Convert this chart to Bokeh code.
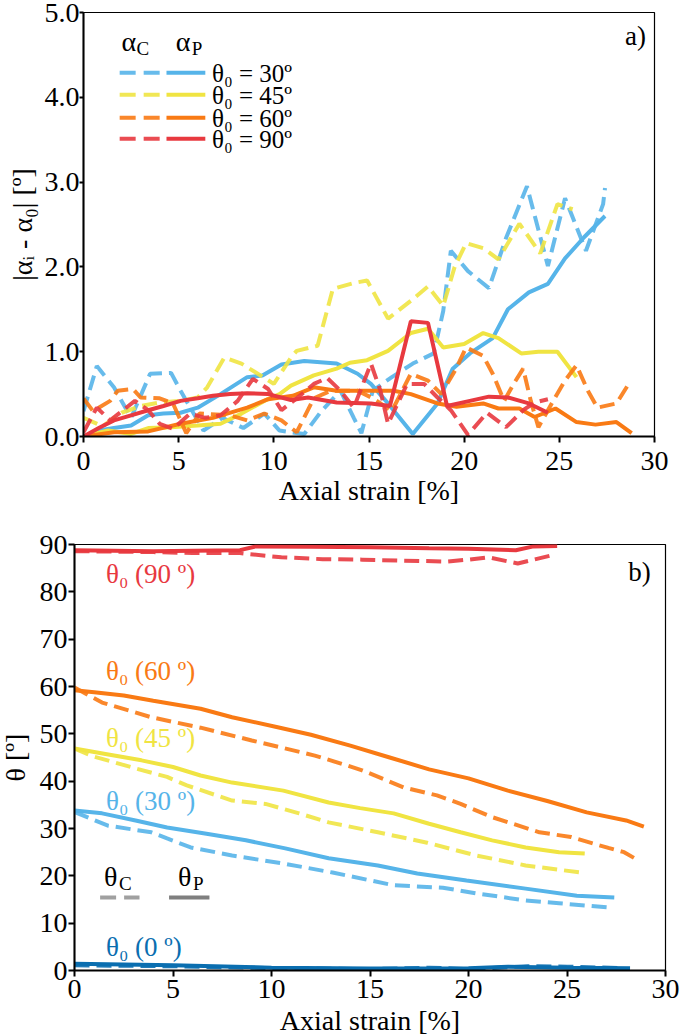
from bokeh.plotting import figure
from bokeh.layouts import column
from bokeh.models import Range1d, FixedTicker, PrintfTickFormatter, Label
from bokeh.embed import file_html
from bokeh.resources import INLINE

FONT = "Liberation Serif"
BLUE = "#56B4E9"
YELLOW = "#F0E442"
ORANGE = "#F97A14"
RED = "#E8393F"
DBLUE = "#0A6EB0"

# ---------------- panel a : |alpha_i - alpha_0| vs axial strain ----------------
a30_p_x = [0, 0.8, 1.6, 2.5, 3.4, 4.2, 5.1, 6.0, 7.2, 8.6, 9.4, 10.4, 11.6, 13.3, 14.4, 15.1, 16.0, 17.3, 18.6, 19.4, 20.3, 21.5, 22.3, 23.4, 24.4, 25.3, 26.3, 27.4]
a30_p_y = [0, 0.07, 0.1, 0.13, 0.25, 0.27, 0.28, 0.34, 0.5, 0.7, 0.72, 0.85, 0.89, 0.86, 0.74, 0.62, 0.39, 0.03, 0.39, 0.8, 0.98, 1.16, 1.5, 1.7, 1.8, 2.1, 2.35, 2.6]
a30_c_x = [0, 0.7, 1.6, 2.5, 3.5, 4.6, 5.1, 6.3, 7.3, 8.4, 9.5, 10.3, 10.9, 11.6, 12.5, 13.5, 14.2, 14.6, 15.2, 16.2, 17.3, 18.4, 18.9, 19.3, 20.2, 21.3, 22.2, 23.3, 24.4, 25.3, 26.4, 27.3, 27.4]
a30_c_y = [0.3, 0.83, 0.58, 0.22, 0.74, 0.75, 0.54, 0.07, 0.22, 0.1, 0.27, 0.07, 0.05, 0.03, 0.3, 0.54, 0.22, 0.04, 0.54, 0.7, 0.86, 0.98, 1.48, 2.19, 1.95, 1.75, 2.34, 2.95, 2.01, 2.81, 2.19, 2.74, 2.93]

a45_p_x = [0, 1.3, 2.5, 3.4, 4.6, 6.0, 7.2, 8.3, 9.5, 10.3, 10.9, 12.1, 13.3, 14.0, 14.9, 16.0, 17.2, 18.1, 18.9, 20.0, 21.0, 21.8, 23.0, 23.9, 24.9, 25.9]
a45_p_y = [0, 0.07, 0.03, 0.1, 0.11, 0.13, 0.15, 0.27, 0.42, 0.5, 0.6, 0.72, 0.8, 0.87, 0.9, 1.01, 1.22, 1.27, 1.05, 1.09, 1.22, 1.16, 0.98, 1.0, 1.0, 0.7]
a45_c_x = [0, 1.0, 2.0, 3.0, 4.0, 5.1, 6.0, 6.5, 7.4, 8.3, 9.3, 10.0, 10.9, 11.2, 12.3, 13.1, 14.2, 14.9, 16.0, 17.2, 18.1, 18.9, 19.5, 20.1, 21.0, 21.8, 22.9, 24.0, 24.9, 25.7]
a45_c_y = [0.22, 0.12, 0.28, 0.36, 0.4, 0.42, 0.46, 0.58, 0.93, 0.86, 0.72, 0.62, 0.93, 1.01, 1.07, 1.74, 1.81, 1.84, 1.39, 1.6, 1.77, 1.54, 2.0, 2.28, 2.22, 2.09, 2.51, 2.16, 2.74, 2.68]

a60_p_x = [0, 1.6, 3.4, 5.1, 6.8, 8.6, 9.7, 11.0, 12.1, 13.3, 15.1, 16.3, 17.2, 18.6, 19.6, 21.0, 21.8, 22.9, 23.7, 24.8, 25.9, 26.9, 28.0, 28.8]
a60_p_y = [0, 0.05, 0.06, 0.15, 0.22, 0.34, 0.44, 0.48, 0.58, 0.54, 0.54, 0.54, 0.5, 0.39, 0.35, 0.39, 0.33, 0.33, 0.23, 0.33, 0.17, 0.14, 0.17, 0.04]
a60_c_x = [0, 0.5, 1.4, 1.8, 2.6, 3.0, 4.0, 4.7, 5.4, 6.1, 7.7, 8.6, 9.5, 10.4, 11.2, 12.1, 13.0, 14.4, 15.2, 16.2, 17.2, 18.1, 18.8, 19.6, 20.1, 21.0, 21.5, 22.1, 22.6, 23.1, 23.5, 23.9, 24.6, 25.3, 25.9, 26.5, 27.0, 28.0, 28.7]
a60_c_y = [0.45, 0.3, 0.42, 0.54, 0.56, 0.46, 0.45, 0.39, 0.04, 0.27, 0.25, 0.19, 0.27, 0.19, 0.05, 0.45, 0.54, 0.54, 0.45, 0.3, 0.74, 0.66, 0.5, 0.81, 1.05, 0.95, 0.74, 0.42, 0.62, 0.8, 0.42, 0.11, 0.39, 0.66, 0.84, 0.54, 0.34, 0.39, 0.64]

a90_p_x = [0, 0.8, 1.6, 2.5, 3.4, 4.2, 5.1, 6.0, 6.8, 7.7, 8.6, 9.7, 10.9, 11.8, 13.3, 15.1, 16.1, 17.2, 18.1, 19.1, 20.3, 21.3, 22.3, 23.4, 24.4]
a90_p_y = [0, 0.1, 0.19, 0.25, 0.31, 0.36, 0.42, 0.45, 0.48, 0.5, 0.51, 0.5, 0.43, 0.46, 0.4, 0.39, 0.36, 1.36, 1.34, 0.36, 0.42, 0.47, 0.46, 0.39, 0.28]
a90_c_x = [0, 0.7, 1.4, 2.7, 3.4, 4.0, 4.7, 5.6, 6.4, 7.2, 8.1, 8.9, 9.7, 10.4, 11.2, 12.1, 12.8, 13.5, 14.2, 15.1, 15.6, 16.0, 17.0, 17.9, 18.6, 19.3, 20.2, 21.2, 22.2, 23.1, 23.7, 24.4]
a90_c_y = [0.05, 0.34, 0.19, 0.42, 0.31, 0.15, 0.09, 0.27, 0.22, 0.25, 0.42, 0.68, 0.56, 0.31, 0.45, 0.62, 0.69, 0.54, 0.34, 0.86, 0.54, 0.15, 0.62, 0.62, 0.46, 0.31, 0.02, 0.28, 0.11, 0.31, 0.4, 0.44]

# ---------------- panel b : theta vs axial strain ----------------
b90_p_x = [0, 2, 4, 6, 8.4, 9.2, 12, 15, 18, 20, 22.4, 23.3, 24.5]
b90_p_y = [88.8, 88.7, 88.6, 88.7, 88.8, 89.6, 89.5, 89.4, 89.2, 89.1, 88.8, 89.6, 89.7]
b90_c_x = [0, 2, 4, 6, 8.4, 8.8, 10.5, 12.6, 14.6, 16.6, 18.9, 20.0, 21.0, 22.5, 24.4]
b90_c_y = [88.6, 88.5, 88.4, 88.2, 88.2, 88.0, 87.3, 86.9, 86.8, 86.6, 86.4, 86.8, 87.3, 86.0, 87.9]

b60_p_x = [0, 1, 2.5, 4, 6.4, 8, 10.2, 12, 14, 16, 18, 20, 22, 24, 26, 28, 28.9]
b60_p_y = [59.2, 58.8, 58.1, 57.0, 55.3, 53.5, 51.5, 49.8, 47.5, 45.0, 42.5, 40.6, 38.0, 35.8, 33.4, 31.7, 30.4]
b60_c_x = [0, 1.4, 3.9, 6.4, 9.0, 12.2, 13.7, 14.6, 16.7, 18.4, 19.6, 21.2, 23.6, 25.2, 27.1, 27.9, 28.6]
b60_c_y = [59.8, 56.6, 53.5, 51.3, 48.6, 45.4, 43.5, 42.3, 38.7, 37.0, 35.2, 32.4, 29.2, 28.2, 25.9, 25.0, 23.3]

b45_p_x = [0, 1.5, 3.4, 5, 6.4, 8, 10.6, 12.9, 14.5, 16.2, 18, 19.6, 21.2, 22.9, 24.6, 25.9]
b45_p_y = [46.9, 45.8, 44.4, 43.0, 41.2, 39.7, 38.0, 35.5, 34.3, 33.2, 31.0, 29.2, 27.5, 26.0, 25.0, 24.7]
b45_c_x = [0, 0.9, 3.1, 4.7, 5.7, 8, 9.7, 11.4, 12.9, 15.4, 17.9, 20.4, 22.9, 25.7]
b45_c_y = [46.9, 45.3, 42.7, 40.9, 39.1, 35.9, 35.2, 33.2, 31.3, 29.2, 27.0, 24.3, 22.2, 20.7]

b30_p_x = [0, 1.4, 3.1, 4.7, 6.7, 8.7, 10.7, 12.9, 15.4, 17.4, 19.9, 22.9, 25.5, 27.4]
b30_p_y = [33.8, 33.2, 31.7, 30.2, 28.9, 27.5, 25.8, 23.7, 22.2, 20.5, 19.0, 17.3, 15.8, 15.4]
b30_c_x = [0, 1.7, 3.9, 4.7, 5.9, 8, 10.6, 13.1, 16.2, 18.7, 20.4, 22.9, 24.6, 27.2]
b30_c_y = [33.5, 30.6, 29.2, 27.9, 26.0, 24.3, 22.6, 20.7, 18.0, 17.5, 16.3, 14.8, 14.2, 13.3]

b0_p_x = [0, 5, 10, 15, 20, 22, 25, 28.2]
b0_p_y = [1.4, 1.1, 0.6, 0.4, 0.5, 0.8, 0.6, 0.5]
b0_c_x = [0, 5, 10, 15, 18, 20, 23, 25, 27.9]
b0_c_y = [1.1, 0.9, 0.5, 0.3, 0.6, 0.3, 0.9, 0.8, 0.5]

legend_a_labels = ["θ₀ = 30º", "θ₀ = 45º", "θ₀ = 60º", "θ₀ = 90º"]
labels_b = ["θ₀ (90 º)", "θ₀ (60 º)", "θ₀ (45 º)", "θ₀ (30 º)", "θ₀ (0 º)"]

DASH = "15 7"
LW = 4
TICK_FS = "28px"


def style(p):
    p.grid.visible = False
    p.outline_line_color = "black"
    p.outline_line_width = 1.2
    p.background_fill_color = "white"
    p.border_fill_color = "white"
    for ax in (p.xaxis[0], p.yaxis[0]):
        ax.axis_line_width = 2
        ax.axis_line_color = "black"
        ax.major_tick_line_width = 2
        ax.major_tick_in = 0
        ax.minor_tick_line_color = None
        ax.major_label_text_font = FONT
        ax.major_label_text_font_size = TICK_FS
        ax.major_label_text_color = "black"
        ax.axis_label_text_font = FONT
        ax.axis_label_text_font_size = TICK_FS
        ax.axis_label_text_font_style = "normal"
        ax.axis_label_text_color = "black"


def lab(p, text, x, y, color, size="24px", align="left", xo=0, yo=0):
    p.add_layout(Label(x=x, y=y, text=text, text_font=FONT, text_font_size=size,
                       text_color=color, text_align=align, text_baseline="middle",
                       x_offset=xo, y_offset=yo))


# ---- panel a ----
pa = figure(frame_width=571, frame_height=424, min_border_left=83, min_border_right=26,
            min_border_top=12, min_border_bottom=92, x_range=Range1d(0, 30), y_range=Range1d(0, 5),
            output_backend="svg", toolbar_location=None)
style(pa)
pa.xaxis.ticker = FixedTicker(ticks=[0, 5, 10, 15, 20, 25, 30])
pa.yaxis.ticker = FixedTicker(ticks=[0, 1, 2, 3, 4, 5])
pa.yaxis.formatter = PrintfTickFormatter(format="%.1f")
pa.xaxis.major_tick_out = 6
pa.yaxis.major_tick_out = 4
pa.xaxis.major_label_standoff = 9
pa.yaxis.major_label_standoff = 0
pa.xaxis.axis_label = "Axial strain [%]"
pa.yaxis.axis_label = "|αᵢ - α₀| [º]"
pa.xaxis.axis_label_standoff = 2
pa.yaxis.axis_label_standoff = 4

series_a = [(a30_c_x, a30_c_y, a30_p_x, a30_p_y, BLUE),
            (a45_c_x, a45_c_y, a45_p_x, a45_p_y, YELLOW),
            (a60_c_x, a60_c_y, a60_p_x, a60_p_y, ORANGE),
            (a90_c_x, a90_c_y, a90_p_x, a90_p_y, RED)]
for cx, cy, px, py, col in series_a:
    pa.line(cx, cy, line_color=col, line_width=LW, line_dash=DASH, line_alpha=0.9)
    pa.line(px, py, line_color=col, line_width=LW)

# legend of panel a (positions in data units)
leg_rows = [4.29, 4.03, 3.76, 3.51]
for row_y, (_, _, _, _, col), txt in zip(leg_rows, series_a, legend_a_labels):
    pa.line([1.9, 4.05], [row_y, row_y], line_color=col, line_width=LW, line_dash="16 8", line_alpha=0.9)
    pa.line([4.36, 6.4], [row_y, row_y], line_color=col, line_width=LW)
    lab(pa, txt, 6.75, row_y, "black", size="25px", yo=-1)
lab(pa, "α", 2.0, 4.66, "black", size="28px")
lab(pa, "C", 2.0, 4.66, "black", size="19px", xo=15, yo=-7)
lab(pa, "α", 4.85, 4.66, "black", size="28px")
lab(pa, "P", 4.85, 4.66, "black", size="19px", xo=16, yo=-7)
lab(pa, "a)", 29.55, 4.72, "black", size="27px", align="right")

# ---- panel b ----
pb = figure(frame_width=600, frame_height=426, min_border_left=81, min_border_right=8,
            min_border_top=16, min_border_bottom=64, x_range=Range1d(0, 30), y_range=Range1d(0, 90),
            output_backend="svg", toolbar_location=None)
pb.margin = (0, 0, 0, -9)
style(pb)
pb.xaxis.ticker = FixedTicker(ticks=[0, 5, 10, 15, 20, 25, 30])
pb.yaxis.ticker = FixedTicker(ticks=[0, 10, 20, 30, 40, 50, 60, 70, 80, 90])
pb.xaxis.major_tick_out = 6
pb.yaxis.major_tick_out = 6
pb.xaxis.major_label_standoff = 3
pb.yaxis.major_label_standoff = 1
pb.xaxis.axis_label = "Axial strain [%]"
pb.yaxis.axis_label = "θ [º]"
pb.xaxis.axis_label_standoff = 4
pb.yaxis.axis_label_standoff = 6

series_b = [(b0_c_x, b0_c_y, b0_p_x, b0_p_y, DBLUE),
            (b30_c_x, b30_c_y, b30_p_x, b30_p_y, BLUE),
            (b45_c_x, b45_c_y, b45_p_x, b45_p_y, YELLOW),
            (b60_c_x, b60_c_y, b60_p_x, b60_p_y, ORANGE),
            (b90_c_x, b90_c_y, b90_p_x, b90_p_y, RED)]
for cx, cy, px, py, col in series_b:
    pb.line(cx, cy, line_color=col, line_width=LW, line_dash=DASH, line_alpha=0.9)
    pb.line(px, py, line_color=col, line_width=LW)

label_y_b = [83.7, 63.2, 49.2, 35.9, 4.9]
label_col_b = [RED, ORANGE, YELLOW, BLUE, DBLUE]
for txt, yy, col in zip(labels_b, label_y_b, label_col_b):
    lab(pb, txt, 1.6, yy, col, size="27px")

pb.line([1.3, 3.3], [15.4, 15.4], line_color="#A0A0A0", line_width=LW, line_dash="16 8")
pb.line([4.8, 6.85], [15.4, 15.4], line_color="#7F7F7F", line_width=LW)
lab(pb, "θ", 1.5, 19.9, "black", size="28px")
lab(pb, "C", 1.5, 19.9, "black", size="19px", xo=15, yo=-7)
lab(pb, "θ", 5.25, 19.9, "black", size="28px")
lab(pb, "P", 5.25, 19.9, "black", size="19px", xo=15, yo=-7)
lab(pb, "b)", 29.25, 84.1, "black", size="27px", align="right")

layout = column(pa, pb)
open("out.html", "w").write(file_html(layout, INLINE))
